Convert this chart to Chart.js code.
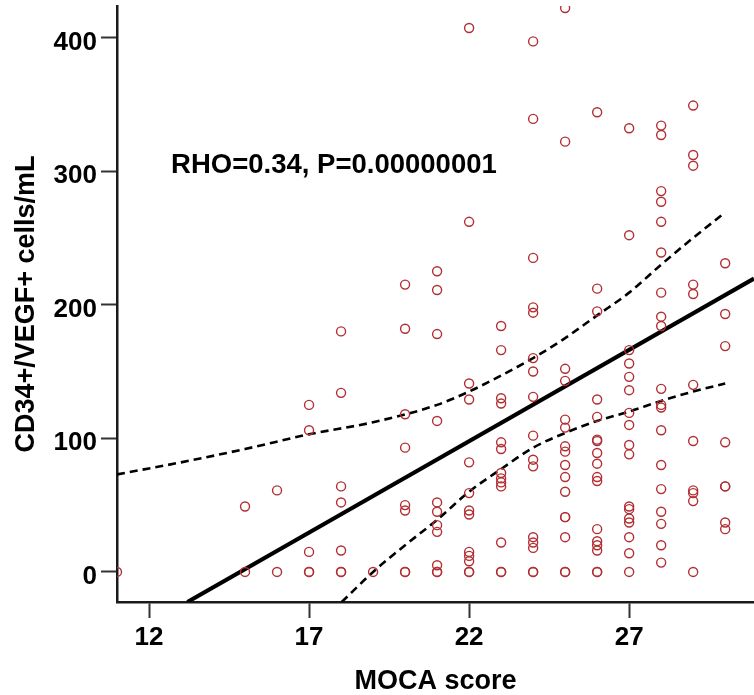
<!DOCTYPE html>
<html>
<head>
<meta charset="utf-8">
<title>CD34+/VEGF+ vs MOCA</title>
<script src="https://cdn.jsdelivr.net/npm/chart.js@4"></script>
<style>
  html, body { margin: 0; padding: 0; background: #fff; }
  #wrap { width: 754px; height: 695px; }
</style>
</head>
<body>
<div id="wrap"><canvas id="mocaChart" width="754" height="695"></canvas></div>
<script>
// MOCA score levels and the CD34+/VEGF+ counts observed at each level
const scoreLevels = [11, 15, 16, 17, 18, 19, 20, 21, 22, 23, 24, 25, 26, 27, 28, 29, 30];
const cellsAtScore = [
    [0],
    [0, 49],
    [0, 61],
    [0, 0, 15, 106, 125],
    [0, 0, 16, 52, 64, 134, 180],
    [0],
    [0, 0, 46, 50, 93, 118, 182, 215],
    [0, 0, 5, 30, 35, 45, 52, 113, 178, 211, 225],
    [0, 0, 8, 12, 15, 43, 46, 59, 82, 129, 141, 262, 407],
    [0, 0, 22, 64, 67, 70, 74, 92, 97, 126, 130, 166, 184],
    [0, 0, 18, 22, 26, 79, 84, 102, 131, 150, 160, 194, 198, 235, 339, 397],
    [0, 0, 26, 41, 41, 60, 71, 80, 90, 94, 108, 114, 143, 152, 322, 422],
    [0, 0, 16, 20, 23, 32, 68, 71, 81, 89, 98, 99, 116, 129, 195, 212, 344],
    [0, 14, 26, 37, 40, 47, 49, 88, 95, 110, 119, 136, 146, 156, 166, 252, 332],
    [7, 20, 36, 45, 62, 80, 106, 123, 125, 137, 184, 191, 209, 239, 262, 277, 285, 327, 334],
    [0, 53, 59, 61, 98, 140, 208, 215, 304, 312, 349],
    [32, 37, 64, 64, 97, 169, 193, 231]
];

// Linear fit and its 95% confidence band
const fitX = [13.2, 30.9];
const fitY = [-22.5, 219.5];
const upperX = [11, 13, 15, 17, 19, 21, 22, 23, 24, 25, 26, 27, 28, 29, 30];
const upperY = [73, 82, 92, 103, 112, 125, 135, 147, 160, 175, 192, 209, 230, 250, 269];
const lowerX = [18.02, 19, 20, 21, 22, 23, 24, 25, 26, 27, 28, 29, 30];
const lowerY = [-22.5, 0, 20, 39, 60, 77, 93, 104, 113, 120, 128, 135, 141];

const xTicks = [12, 17, 22, 27];
const yTicks = [0, 100, 200, 300, 400];
const statText = 'RHO=0.34, P=0.00000001';

const FONT = '"Liberation Sans", Arial, sans-serif';
const INK = '#1a1a1a';

const toPoints = (xs, ys) => xs.map((x, i) => ({ x: x, y: ys[i] }));
const scatterPoints = scoreLevels.flatMap((s, i) => cellsAtScore[i].map(v => ({ x: s, y: v })));

// writes the correlation result inside the plot
const statLabel = {
    id: 'statLabel',
    afterDatasetsDraw(chart) {
        const { ctx, scales } = chart;
        ctx.save();
        ctx.font = 'bold 27.5px ' + FONT;
        ctx.fillStyle = '#000';
        ctx.textAlign = 'left';
        ctx.textBaseline = 'middle';
        ctx.fillText(statText, scales.x.getPixelForValue(12.69), scales.y.getPixelForValue(304));
        ctx.restore();
    }
};

const lineSet = (data, width, dash) => ({
    type: 'line',
    data: data,
    borderColor: '#000',
    borderWidth: width,
    borderDash: dash,
    pointRadius: 0,
    fill: false,
    cubicInterpolationMode: 'monotone',
    clip: 0
});

new Chart(document.getElementById('mocaChart'), {
    type: 'scatter',
    data: {
        datasets: [
            {
                data: scatterPoints,
                pointStyle: 'circle',
                pointRadius: 4.5,
                borderWidth: 1.4,
                borderColor: 'rgb(178, 46, 50)',
                backgroundColor: 'rgba(0,0,0,0)',
                clip: 0
            },
            lineSet(toPoints(upperX, upperY), 2.6, [8, 5]),
            lineSet(toPoints(lowerX, lowerY), 2.6, [8, 5]),
            lineSet(toPoints(fitX, fitY), 4.2, [])
        ]
    },
    options: {
        responsive: false,
        animation: false,
        layout: { autoPadding: false, padding: { top: 6, right: 0, bottom: 0, left: 0 } },
        plugins: {
            legend: { display: false },
            tooltip: { enabled: false }
        },
        scales: {
            x: {
                type: 'linear',
                min: 11,
                max: 30.9,
                afterBuildTicks: s => { s.ticks = xTicks.map(v => ({ value: v })); },
                afterFit: s => { s.height = 93; s.paddingLeft = 0; s.paddingRight = 0; },
                grid: { drawOnChartArea: false, drawTicks: true, tickLength: 16, tickColor: '#333', tickWidth: 2 },
                border: { display: true, color: INK, width: 2.5 },
                ticks: { color: '#000', padding: 4, font: { family: FONT, size: 26, weight: 'bold' } },
                title: {
                    display: true,
                    text: 'MOCA score',
                    color: '#000',
                    padding: { top: 0, bottom: 0 },
                    font: { family: FONT, size: 27, weight: 'bold', lineHeight: 1 }
                }
            },
            y: {
                type: 'linear',
                min: -22.5,
                max: 423.5,
                afterBuildTicks: s => { s.ticks = yTicks.map(v => ({ value: v })); },
                afterFit: s => { s.width = 117; s.paddingTop = 0; s.paddingBottom = 0; },
                grid: { drawOnChartArea: false, drawTicks: true, tickLength: 16, tickColor: '#333', tickWidth: 2 },
                border: { display: true, color: INK, width: 2.5 },
                ticks: { color: '#000', padding: 4, labelOffset: 5, font: { family: FONT, size: 26, weight: 'bold' } },
                title: {
                    display: true,
                    text: 'CD34+/VEGF+ cells/mL',
                    color: '#000',
                    padding: { top: 13, bottom: 0 },
                    font: { family: FONT, size: 27, weight: 'bold', lineHeight: 1 }
                }
            }
        }
    },
    plugins: [statLabel]
});
</script>
</body>
</html>
